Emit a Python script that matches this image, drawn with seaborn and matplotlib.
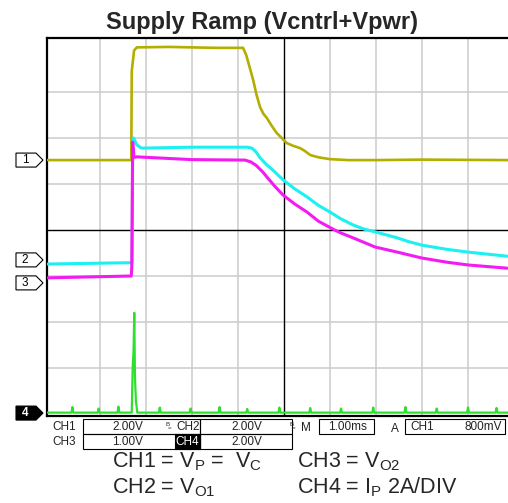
import matplotlib.pyplot as plt
import pandas as pd
import seaborn as sns
from matplotlib.patches import Polygon, Rectangle

# Traces, in divisions from the centre of the graticule
ch1_x = [-5.14, -3.32, -3.31, -3.26, -3.20, -2.5, -1.5, -0.89, -0.82, -0.75, -0.67,
         -0.60, -0.52, -0.45, -0.37, -0.27, -0.16, -0.05, 0.06, 0.20, 0.35, 0.45,
         0.57, 0.75, 1.00, 1.40, 2.0, 3.0, 4.87]
ch1_y = [1.52, 1.52, 3.45, 3.90, 3.97, 3.98, 3.96, 3.96, 3.80, 3.55, 3.26,
         2.95, 2.67, 2.53, 2.43, 2.27, 2.11, 2.00, 1.89, 1.83, 1.78, 1.72,
         1.63, 1.58, 1.54, 1.52, 1.52, 1.53, 1.52]

ch2_x = [-5.14, -3.30, -3.29, -3.27, -3.20, -3.10, -2.0, -0.80, -0.70, -0.61,
         -0.52, -0.39, -0.24, -0.02, 0.24, 0.50, 0.74, 1.00, 1.24, 1.50, 1.74,
         1.98, 2.46, 2.70, 3.00, 3.54, 4.00, 4.85]
ch2_y = [-0.74, -0.71, 1.90, 2.00, 1.85, 1.78, 1.80, 1.80, 1.78, 1.70,
         1.57, 1.43, 1.30, 1.09, 0.89, 0.72, 0.54, 0.39, 0.24, 0.11, 0.02,
         -0.04, -0.17, -0.25, -0.33, -0.42, -0.48, -0.57]

ch3_x = [-5.14, -3.32, -3.31, -3.29, -3.26, -3.20, -2.0, -0.85, -0.72, -0.60,
         -0.46, -0.37, -0.20, -0.02, 0.24, 0.50, 0.75, 1.10, 1.25, 1.50, 1.98,
         2.46, 3.00, 3.54, 4.00, 4.85]
ch3_y = [-1.04, -1.00, -0.82, 1.91, 1.58, 1.59, 1.53, 1.52, 1.48, 1.40,
         1.26, 1.15, 0.95, 0.76, 0.56, 0.39, 0.19, 0.00, -0.07, -0.17, -0.37,
         -0.48, -0.61, -0.70, -0.76, -0.83]

ch4_x = [-5.14, -4.62, -4.60, -4.58, -4.05, -4.03, -4.01, -3.62, -3.60, -3.58, -3.31,
         -3.29, -3.27, -3.255, -3.24, -3.22, -3.19, -2.72, -2.70, -2.68, -2.05, -2.03,
         -2.01, -1.42, -1.40, -1.38, -0.82, -0.80, -0.78, -0.12, -0.10, -0.08, 0.55,
         0.57, 0.59, 1.22, 1.24, 1.26, 1.92, 1.94, 1.96, 2.62, 2.64, 2.66, 3.30,
         3.32, 3.34, 3.98, 4.00, 4.02, 4.60, 4.62, 4.64, 4.87]
ch4_y = [-3.97, -3.97, -3.85, -3.97, -3.97, -3.88, -3.97, -3.97, -3.84, -3.97, -3.97,
         -3.00, -2.60, -1.80, -3.20, -3.70, -3.97, -3.97, -3.86, -3.97, -3.97, -3.88,
         -3.97, -3.97, -3.85, -3.97, -3.97, -3.89, -3.97, -3.97, -3.86, -3.97, -3.97,
         -3.87, -3.97, -3.97, -3.88, -3.97, -3.97, -3.86, -3.97, -3.97, -3.85, -3.97,
         -3.97, -3.88, -3.97, -3.97, -3.86, -3.97, -3.97, -3.87, -3.97, -3.97]

traces = [
    ("CH1", ch1_x, ch1_y, "#b3ae00", 1.9),
    ("CH2", ch2_x, ch2_y, "#1cf0f0", 2.2),
    ("CH3", ch3_x, ch3_y, "#f21cf2", 2.2),
    ("CH4", ch4_x, ch4_y, "#2ee02e", 1.6),
]

# channel reference markers (label, level in divisions)
markers = [("1", 1.52), ("2", -0.65), ("3", -1.15), ("4", -3.98)]

scale_row1 = ["2.00V", "2.00V", "1.00ms", "800mV"]
scale_row2 = ["1.00V", "2.00V"]

sns.set_style("white")
plt.rcParams['font.family'] = ['Liberation Sans', 'DejaVu Sans']

W, H = 508, 503
fig = plt.figure(figsize=(W / 100, H / 100), dpi=100)


def fx(px):
    return px / W


def fy(py):
    return 1 - py / H


ax = fig.add_axes([fx(46.5), fy(416), 1 - fx(46.5), fy(38) - fy(416)])
x_left, x_right = (46.5 - 284) / 46, (508 - 284) / 46
y_bot, y_top = (230 - 416) / 46, (230 - 38) / 46
ax.set_xlim(x_left, x_right)
ax.set_ylim(y_bot, y_top)

# graticule
for gx in range(-4, 5):
    if gx != 0:
        ax.axvline(gx, color="#cccccc", lw=1.1, zorder=0)
for gy in range(-3, 4):
    if gy != 0:
        ax.axhline(gy, color="#cccccc", lw=1.1, zorder=0)
ax.axvline(0, color="black", lw=1.0, zorder=1)
ax.axhline(0, color="black", lw=1.0, zorder=1)

for name, xs, ys, col, lw in traces:
    d = pd.DataFrame({"x": xs, "y": ys})
    sns.lineplot(data=d, x="x", y="y", ax=ax, color=col, lw=lw,
                 sort=False, estimator=None, zorder=3)

ax.set_xticks([])
ax.set_yticks([])
ax.set_xlabel("")
ax.set_ylabel("")
for side in ["left", "top", "bottom"]:
    ax.spines[side].set_color("black")
    ax.spines[side].set_linewidth(1.6)
ax.spines["right"].set_visible(False)

fig.text(fx(262), fy(29), "Supply Ramp (Vcntrl+Vpwr)", ha="center", va="baseline",
         fontsize=17, fontweight="bold")

# channel markers on the left
for lab, lvl in markers:
    py = 230 - lvl * 46
    pts = [(fx(16), fy(py - 7)), (fx(36), fy(py - 7)), (fx(43), fy(py)),
           (fx(36), fy(py + 7)), (fx(16), fy(py + 7))]
    dark = lab == "4"
    fig.add_artist(Polygon(pts, closed=True, transform=fig.transFigure,
                           facecolor="black" if dark else "white",
                           edgecolor="black", lw=0.8))
    fig.text(fx(25), fy(py), lab, ha="center", va="center", fontsize=8.5,
             color="white" if dark else "black",
             fontweight="bold" if dark else "normal")

# scale panel
def box(x0, y0, x1, y1, fill="none"):
    fig.add_artist(Rectangle((fx(x0), fy(y1)), fx(x1) - fx(x0), fy(y0) - fy(y1),
                             transform=fig.transFigure, facecolor=fill,
                             edgecolor="black", lw=0.8))


box(83, 419, 200, 434)
box(200, 419, 292, 434)
box(83, 434, 200, 449)
box(200, 434, 292, 449)
box(175, 434, 200, 449, fill="black")
box(319, 419, 374, 434)
box(405, 419, 505, 434)

fs = 8.5
r1, r2 = fy(427), fy(442)
tc = "#222222"
fig.text(fx(64), r1, "CH1", ha="center", va="center", fontsize=fs, color=tc)
fig.text(fx(128), r1, scale_row1[0], ha="center", va="center", fontsize=fs, color=tc)
fig.text(fx(165), fy(424), "B", ha="left", va="center", fontsize=4.5)
fig.text(fx(168), fy(429), "=", ha="left", va="center", fontsize=4.5)
fig.text(fx(188), r1, "CH2", ha="center", va="center", fontsize=fs, color=tc)
fig.text(fx(247), r1, scale_row1[1], ha="center", va="center", fontsize=fs, color=tc)
fig.text(fx(289), fy(424), "B", ha="left", va="center", fontsize=4.5)
fig.text(fx(292), fy(429), "=", ha="left", va="center", fontsize=4.5)
fig.text(fx(306), fy(428), "M", ha="center", va="center", fontsize=fs, color=tc)
fig.text(fx(347), r1, scale_row1[2], ha="center", va="center", fontsize=fs, color=tc)
fig.text(fx(395), fy(429), "A", ha="center", va="center", fontsize=fs, color=tc)
fig.text(fx(410), r1, "CH1", ha="left", va="center", fontsize=fs, color=tc)
fig.text(fx(502), r1, scale_row1[3], ha="right", va="center", fontsize=fs, color=tc)
fig.text(fx(64), r2, "CH3", ha="center", va="center", fontsize=fs, color=tc)
fig.text(fx(128), r2, scale_row2[0], ha="center", va="center", fontsize=fs, color=tc)
fig.text(fx(187.5), r2, "CH4", ha="center", va="center", fontsize=fs, color="white")
fig.text(fx(247), r2, scale_row2[1], ha="center", va="center", fontsize=fs, color=tc)

# channel legend
cfs = 15.5
fig.text(fx(112), fy(467), r"CH1 = V$_\mathregular{P}$ =  V$_\mathregular{C}$",
         ha="left", va="baseline", fontsize=cfs)
fig.text(fx(297), fy(467), r"CH3 = V$_\mathregular{O2}$",
         ha="left", va="baseline", fontsize=cfs)
fig.text(fx(112), fy(493), r"CH2 = V$_\mathregular{O1}$",
         ha="left", va="baseline", fontsize=cfs)
fig.text(fx(297), fy(493), r"CH4 = I$_\mathregular{P}$ 2A/DIV",
         ha="left", va="baseline", fontsize=cfs)

fig.savefig("out.png", dpi=100)
